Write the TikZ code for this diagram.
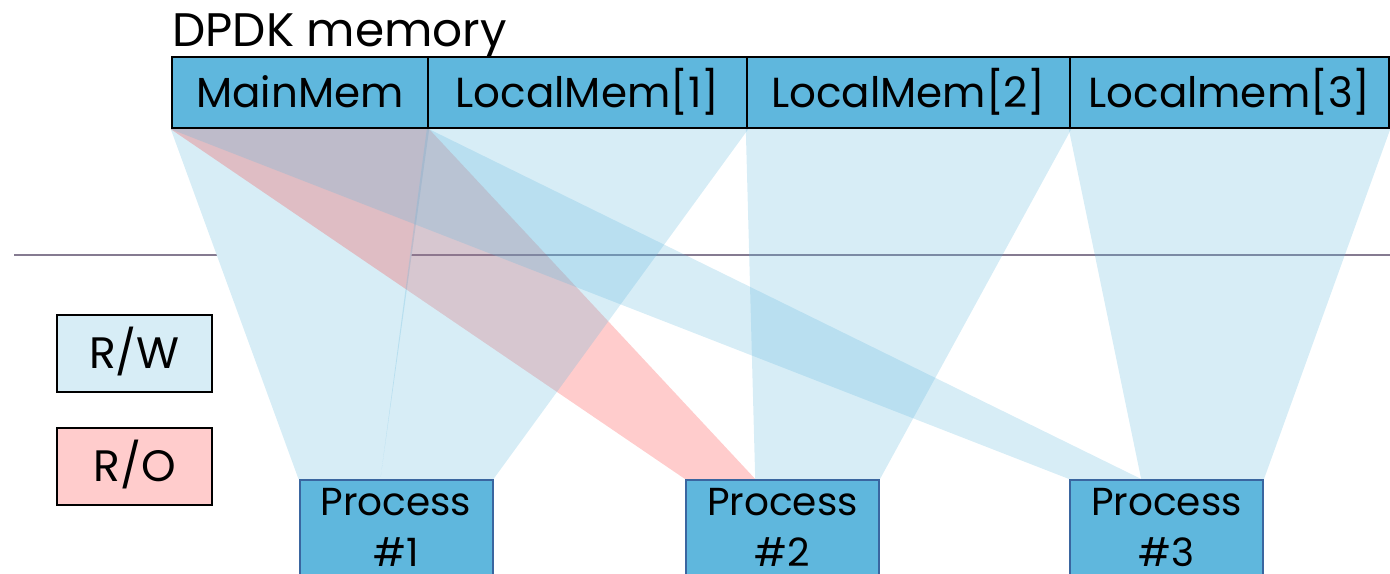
\documentclass[tikz,border=0pt]{standalone}
\usepackage{fontspec}
\setmainfont{Poppins}
\usepackage{tikz}
\usetikzlibrary{calc,positioning,backgrounds}

\definecolor{memblue}{RGB}{95,183,221}
\definecolor{rwfill}{RGB}{215,237,246}
\definecolor{rofill}{RGB}{255,204,204}
\definecolor{procline}{RGB}{58,102,160}
\definecolor{sepgray}{RGB}{133,123,145}

\begin{document}
\begin{tikzpicture}[x=0.5pt,y=-0.5pt,
    mem/.style={draw=black,line width=1.2pt,fill=memblue,minimum height=35.5pt,inner sep=0pt,
        font=\fontsize{21}{25}\selectfont,text height=15pt,text depth=0pt},
    proc/.style={draw=procline,line width=1pt,fill=memblue,anchor=north,minimum width=96.5pt,
        inner xsep=0pt,inner ysep=4pt,align=center,font=\fontsize{19.5}{25.5}\selectfont,text depth=12pt},
    key/.style={draw=black,line width=1pt,minimum width=77.5pt,minimum height=38.5pt,inner sep=0pt,
        font=\fontsize{22}{26}\selectfont,text height=15pt,text depth=0pt},
    rw/.style={fill=memblue,fill opacity=0.25},
    ro/.style={fill=red,fill opacity=0.2}]
    \useasboundingbox (0,0) rectangle (1390,573);
    \clip (0,0) rectangle (1390,573);

    \node[anchor=base west,inner sep=0pt,font=\fontsize{23.5}{28}\selectfont] (t) at (172,46) {DPDK memory};
    \node[mem,minimum width=128pt] (m0) at (300,92.5) {MainMem};
    \node[mem,minimum width=159.5pt] (m1) at (587.5,92.5) {LocalMem[1]};
    \node[mem,minimum width=161.5pt] (m2) at (908.5,92.5) {LocalMem[2]};
    \node[mem,minimum width=159.5pt] (m3) at (1229.5,92.5) {Localmem[3]};

    \node[proc] (p1) at (396,479) {Process\\\#1};
    \node[proc] (p2) at (782.5,479) {Process\\\#2};
    \node[proc] (p3) at (1166.5,479) {Process\\\#3};

    \node[key,fill=rwfill] (rw) at (134.5,353.5) {R/W};
    \node[key,fill=rofill] (ro) at (134.5,466) {R/O};

    \coordinate (s1) at ($(p1.north west)!0.42!(p1.north east)$);
    \coordinate (s2) at ($(p2.north west)!0.36!(p2.north east)$);
    \coordinate (s3) at ($(p3.north west)!0.37!(p3.north east)$);
    \coordinate (l0) at (14,255);
    \coordinate (l1) at (1390,255);

    \begin{pgfonlayer}{background}
    \draw[sepgray,line width=0.7pt] (l0) -- (l1);
    \fill[rwfill] (m0.south west) -- (m0.south east) -- (s1) -- (p1.north west) -- cycle;
    \fill[ro] (m0.south west) -- (m0.south east) -- (s2) -- (p2.north west) -- cycle;
    \fill[rw] (m1.south west) -- (m1.south east) -- (p1.north east) -- (s1) -- cycle;
    \fill[rw] (m0.south west) -- (m0.south east) -- (s3) -- (p3.north west) -- cycle;
    \fill[rw] (m2.south west) -- (m2.south east) -- (p2.north east) -- (s2) -- cycle;
    \fill[rw] (m3.south west) -- (m3.south east) -- (p3.north east) -- (s3) -- cycle;
    \end{pgfonlayer}
\end{tikzpicture}
\end{document}
